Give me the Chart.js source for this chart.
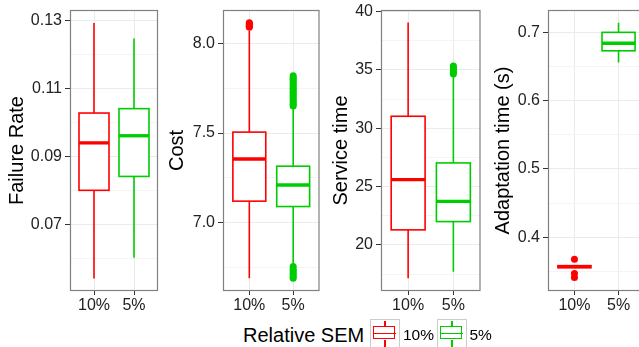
<!DOCTYPE html>
<html lang="en">
<head>
  <meta charset="UTF-8" />
  <title>Relative SEM boxplots</title>
  <script src="https://cdn.jsdelivr.net/npm/chart.js@4.4.0/dist/chart.umd.min.js"></script>
  <style>
    body, html {
      margin: 0;
      padding: 0;
      width: 639px;
      height: 347px;
      overflow: hidden;
      background: #fff;
      font-family: 'Liberation Sans', Arial, sans-serif;
    }
    canvas { position: absolute; top: 0; }
    .legend-title, .legend-label { position: absolute; white-space: nowrap; color: #000; }
    .legend-title { font-size: 20px; line-height: 20px; left: 243px; top: 324.5px; }
    .legend-label { font-size: 15.5px; line-height: 16px; top: 326.5px; }
    .key { position: absolute; top: 319px; width: 28px; height: 28px; border: 1px solid #cccccc; background: #fff; }
    .key .rect { position: absolute; left: 2px; top: 6px; width: 20px; height: 11px; border: 1.5px solid; }
    .key .mid { position: absolute; left: 2px; top: 12.5px; width: 23px; height: 1.5px; }
    .key .wh { position: absolute; left: 13px; width: 1.5px; }
  </style>
</head>
<body>
  <canvas id="failureChart" width="160" height="320" style="left:0px"></canvas>
  <canvas id="costChart" width="163" height="320" style="left:160px"></canvas>
  <canvas id="serviceChart" width="164" height="320" style="left:320px"></canvas>
  <canvas id="adaptChart" width="170" height="320" style="left:480px"></canvas>

  <div class="legend-title">Relative SEM</div>
  <div class="key" style="left:370px">
    <div class="wh" style="top:1px;height:5px;background:#ff0000"></div>
    <div class="rect" style="border-color:#ff0000"></div>
    <div class="mid" style="background:#ff0000"></div>
    <div class="wh" style="top:20px;height:8px;background:#ff0000"></div>
  </div>
  <div class="legend-label" style="left:403px">10%</div>
  <div class="key" style="left:437px">
    <div class="wh" style="top:1px;height:5px;background:#00cd00"></div>
    <div class="rect" style="border-color:#00cd00"></div>
    <div class="mid" style="background:#00cd00"></div>
    <div class="wh" style="top:20px;height:8px;background:#00cd00"></div>
  </div>
  <div class="legend-label" style="left:469.5px">5%</div>

  <script>
    const groups = ['10%', '5%'];

    // box summaries: [lower whisker, Q1, median, Q3, upper whisker]
    const failure10 = [0.0540, 0.0800, 0.0940, 0.1028, 0.1294];
    const failure5 = [0.0601, 0.0841, 0.0961, 0.1041, 0.1248];
    const cost10 = [6.69, 7.12, 7.355, 7.505, 8.07];
    const cost5 = [6.77, 7.09, 7.21, 7.315, 7.64];
    const service10 = [17.14, 21.29, 25.6, 31.03, 39.06];
    const service5 = [17.7, 22.0, 23.74, 27.03, 34.6];
    const adapt10 = [0.3555, 0.3555, 0.357, 0.3585, 0.3585];
    const adapt5 = [0.656, 0.673, 0.684, 0.700, 0.714];

    // outlying points
    const cost10Out = [8.09, 8.095, 8.10, 8.105, 8.11, 8.115];
    const cost5Out = [6.69, 6.70, 6.71, 6.72, 6.73, 6.74, 6.755,
                      7.65, 7.66, 7.67, 7.68, 7.69, 7.70, 7.71, 7.72, 7.73, 7.74, 7.75, 7.76, 7.77, 7.78, 7.79, 7.80, 7.81, 7.82];
    const service5Out = [34.65, 34.8, 34.95, 35.1, 35.2, 35.33];
    const adapt10Out = [0.368, 0.347, 0.341];

    // axis breaks
    const failureTicks = [0.07, 0.09, 0.11, 0.13];
    const failureLabels = ['0.07', '0.09', '0.11', '0.13'];
    const failureMinor = [0.06, 0.08, 0.10, 0.12];
    const costTicks = [7.0, 7.5, 8.0];
    const costLabels = ['7.0', '7.5', '8.0'];
    const costMinor = [6.75, 7.25, 7.75];
    const serviceTicks = [20, 25, 30, 35, 40];
    const serviceLabels = ['20', '25', '30', '35', '40'];
    const serviceMinor = [17.5, 22.5, 27.5, 32.5, 37.5];
    const adaptTicks = [0.4, 0.5, 0.6, 0.7];
    const adaptLabels = ['0.4', '0.5', '0.6', '0.7'];
    const adaptMinor = [0.35, 0.45, 0.55, 0.65];

    const colors = ['#ff0000', '#00cd00'];
    const fontFamily = "'Liberation Sans', Arial, sans-serif";
    const textColor = '#222222';

    function boxPlugin(stats) {
      return {
        id: 'boxPlot',
        beforeDatasetsDraw(chart) {
          const { ctx } = chart;
          const x = chart.scales.x, y = chart.scales.y;
          ctx.save();
          ctx.beginPath();
          ctx.rect(chart.chartArea.left, chart.chartArea.top, chart.chartArea.width, chart.chartArea.height);
          ctx.clip();
          stats.forEach((s, i) => {
            const cx = x.getPixelForValue(i + 1);
            const half = x.getPixelForValue(i + 1.375) - cx;
            const [lo, q1, med, q3, hi] = s.map(v => y.getPixelForValue(v));
            ctx.strokeStyle = colors[i];
            ctx.lineWidth = 1.6;
            ctx.beginPath();
            ctx.moveTo(cx, lo); ctx.lineTo(cx, q1);
            ctx.moveTo(cx, q3); ctx.lineTo(cx, hi);
            ctx.stroke();
            ctx.fillStyle = '#fff';
            ctx.fillRect(cx - half, q3, half * 2, q1 - q3);
            ctx.strokeRect(cx - half, q3, half * 2, q1 - q3);
            ctx.lineWidth = 3.3;
            ctx.beginPath();
            ctx.moveTo(cx - half, med); ctx.lineTo(cx + half, med);
            ctx.stroke();
          });
          ctx.restore();
        }
      };
    }

    const frame = {
      id: 'frame',
      afterDraw(chart) {
        const { ctx, chartArea: a } = chart;
        ctx.save();
        ctx.strokeStyle = '#808080';
        ctx.lineWidth = 1.2;
        ctx.strokeRect(a.left + 0.5, a.top + 0.5, a.width - 1, a.height - 1);
        ctx.restore();
      }
    };

    const near = (list, v) => list.findIndex(t => Math.abs(t - v) < 1e-9);

    function makePanel(id, title, min, max, major, labels, minor, stats, outliers, pad, yWidth) {
      new Chart(document.getElementById(id), {
        type: 'scatter',
        data: {
          datasets: outliers.map((vals, i) => ({
            data: vals.map(v => ({ x: i + 1, y: v })),
            backgroundColor: colors[i],
            borderWidth: 0,
            pointRadius: 3.5,
            pointHoverRadius: 3.5
          }))
        },
        options: {
          responsive: false,
          animation: false,
          layout: { padding: { left: pad.left, right: pad.right, top: 10, bottom: 0 } },
          plugins: { legend: { display: false }, tooltip: { enabled: false } },
          scales: {
            x: {
              type: 'linear',
              min: 0.4,
              max: 2.6,
              afterBuildTicks: s => { s.ticks = [{ value: 1 }, { value: 2 }]; },
              afterFit: s => { s.height = 29; s.paddingLeft = 0; s.paddingRight = 0; },
              ticks: {
                callback: (v, i) => groups[i],
                font: { size: 16, family: fontFamily },
                color: textColor,
                padding: 1,
                maxRotation: 0,
                autoSkip: false
              },
              grid: { color: '#ebebeb', tickColor: '#333', tickLength: 4, lineWidth: 1 },
              border: { display: false }
            },
            y: {
              type: 'linear',
              min: min,
              max: max,
              afterBuildTicks: s => {
                s.ticks = [...minor, ...major].sort((a, b) => a - b).map(v => ({ value: v }));
              },
              afterFit: s => { s.width = yWidth; s.paddingTop = 0; s.paddingBottom = 0; },
              ticks: {
                callback: v => { const k = near(major, v); return k < 0 ? '' : labels[k]; },
                font: { size: 16, family: fontFamily },
                color: textColor,
                padding: 3,
                autoSkip: false
              },
              grid: {
                color: c => near(major, c.tick.value) < 0 ? '#f4f4f4' : '#ebebeb',
                tickColor: c => near(major, c.tick.value) < 0 ? 'rgba(0,0,0,0)' : '#333',
                tickLength: 5,
                lineWidth: 1
              },
              border: { display: false },
              title: {
                display: true,
                text: title,
                color: '#000',
                padding: 0,
                font: { size: 20, family: fontFamily }
              }
            }
          }
        },
        plugins: [boxPlugin(stats), frame]
      });
    }

    makePanel('failureChart', 'Failure Rate', 0.0503, 0.1332, failureTicks, failureLabels, failureMinor,
      [failure10, failure5], [[], []], { left: 5, right: 2 }, 65);
    makePanel('costChart', 'Cost', 6.619, 8.186, costTicks, costLabels, costMinor,
      [cost10, cost5], [cost10Out, cost5Out], { left: 5, right: 2 }, 58);
    makePanel('serviceChart', 'Service time', 16.05, 40.14, serviceTicks, serviceLabels, serviceMinor,
      [service10, service5], [[], service5Out], { left: 9, right: 2 }, 52);
    makePanel('adaptChart', 'Adaptation time (s)', 0.3214, 0.7327, adaptTicks, adaptLabels, adaptMinor,
      [adapt10, adapt5], [adapt10Out, []], { left: 11, right: 5 }, 57);
  </script>
</body>
</html>
